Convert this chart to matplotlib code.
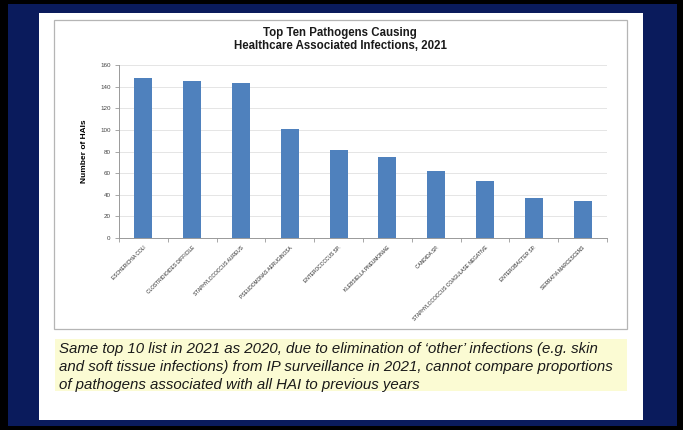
import matplotlib
matplotlib.use("Agg")
import matplotlib.pyplot as plt
from matplotlib.patches import Rectangle
import numpy as np

# Pathogen counts, 2021
pathogens = [
    "ESCHERICHIA COLI",
    "CLOSTRIDIOIDES DIFFICILE",
    "STAPHYLOCOCCUS AUREUS",
    "PSEUDOMONAS AERUGINOSA",
    "ENTEROCOCCUS SP.",
    "KLEBSIELLA PNEUMONIAE",
    "CANDIDA SP.",
    "STAPHYLOCOCCUS COAGULASE NEGATIVE",
    "ENTEROBACTER SP.",
    "SERRATIA MARCESCENS",
]
num_hais = [148, 145, 143, 101, 81, 75, 62, 53, 37, 34]
y_ticks = [0, 20, 40, 60, 80, 100, 120, 140, 160]

note = ("Same top 10 list in 2021 as 2020, due to elimination of \u2018other\u2019 infections (e.g. skin\n"
        "and soft tissue infections) from IP surveillance in 2021, cannot compare proportions\n"
        "of pathogens associated with all HAI to previous years")

W, H = 683, 430
fig = plt.figure(figsize=(W / 100, H / 100), dpi=100, facecolor="black")


def box(x0, y0, x1, y1, **kw):
    # pixel box (top-left origin) -> figure rectangle, drawn behind the axes
    r = Rectangle((x0 / W, 1 - y1 / H), (x1 - x0) / W, (y1 - y0) / H,
                  transform=fig.transFigure, zorder=-5, **kw)
    fig.add_artist(r)


# slide frame
box(8, 4, 677, 426, facecolor="#0a1b5c", edgecolor="none")
box(39, 13, 643, 420, facecolor="white", edgecolor="none")
box(54, 20, 627, 329, facecolor="white", edgecolor="#b5b5b5", linewidth=0.9)
box(55, 339, 627, 391, facecolor="#fbfbd3", edgecolor="none")

ax = fig.add_axes([119 / W, 1 - 238 / H, (607 - 119) / W, (238 - 65) / H])
ax.set_facecolor("white")
x = np.arange(len(pathogens))
ax.bar(x, num_hais, width=0.37, color="#4f81bd", zorder=3)

ax.set_xlim(-0.5, len(pathogens) - 0.5)
ax.set_ylim(0, 160)
ax.set_yticks(y_ticks)
ax.set_yticklabels([str(v) for v in y_ticks], fontsize=4.5, color="#444444",
                   family="Liberation Sans")
ax.yaxis.grid(True, color="#e0e0e0", linewidth=0.6, zorder=0)

ax.set_xticks(x)
ax.set_xticklabels(pathogens, rotation=45, ha="right", rotation_mode="anchor",
                   fontsize=3.5, color="#222222",
                   family=["Liberation Sans Narrow", "Liberation Sans"])
ax.set_xticks(np.arange(-0.5, len(pathogens)), minor=True)
ax.tick_params(axis="x", which="major", length=0, pad=5)
ax.tick_params(axis="x", which="minor", length=3, color="#999999", width=0.6)
ax.tick_params(axis="y", length=3, color="#999999", width=0.6, pad=3)

for side in ["top", "right"]:
    ax.spines[side].set_visible(False)
for side in ["left", "bottom"]:
    ax.spines[side].set_color("#999999")
    ax.spines[side].set_linewidth(0.7)

ax.set_ylabel("Number of HAIs", fontsize=6, fontweight="bold", family="Liberation Sans",
              labelpad=9)

fig.text(340 / W, 1 - 33 / H, "Top Ten Pathogens Causing", ha="center", va="center",
         fontsize=8.3, fontweight="bold", family="Liberation Sans", color="#1a1a1a")
fig.text(340 / W, 1 - 46 / H, "Healthcare Associated Infections, 2021", ha="center",
         va="center", fontsize=8.3, fontweight="bold", family="Liberation Sans",
         color="#1a1a1a")

fig.text(59 / W, 1 - 342 / H, note, ha="left", va="top", fontsize=10.8, style="italic",
         family="Liberation Sans", color="#1a1a1a", linespacing=1.35)

fig.savefig("out.png", dpi=100, facecolor="black")
